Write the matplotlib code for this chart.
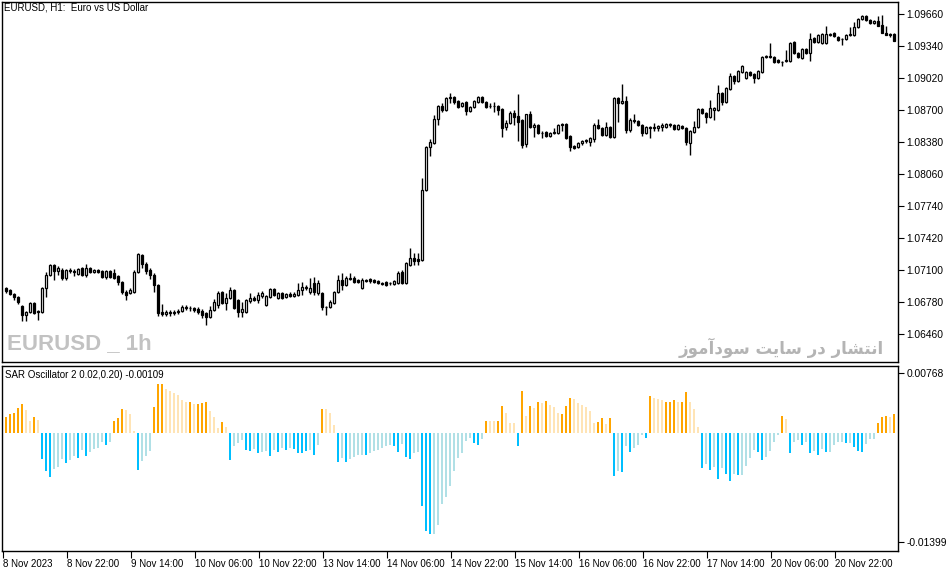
import matplotlib
matplotlib.use("Agg")
import matplotlib.pyplot as plt

# EURUSD H1 candles, 8 Nov 2023 06:00 .. 21 Nov 2023
opens = [
    1.0692, 1.0690, 1.0686, 1.0683, 1.0674, 1.0665, 1.0668, 1.0677, 1.0669, 1.0668,
    1.0692, 1.0705, 1.0715, 1.0709, 1.0710, 1.0702, 1.0710, 1.0709, 1.0706, 1.0712,
    1.0705, 1.0712, 1.0708, 1.0710, 1.0709, 1.0703, 1.0709, 1.0707, 1.0704, 1.0698,
    1.0688, 1.0687, 1.0688, 1.0708, 1.0725, 1.0716, 1.0710, 1.0705, 1.0695, 1.0668,
    1.0666, 1.0668, 1.0667, 1.0668, 1.0669, 1.0673, 1.0672, 1.0672, 1.0671, 1.0669,
    1.0667, 1.0663, 1.0670, 1.0675, 1.0688, 1.0677, 1.0682, 1.0690, 1.0680, 1.0668,
    1.0668, 1.0679, 1.0682, 1.0680, 1.0684, 1.0675, 1.0683, 1.0691, 1.0682, 1.0687,
    1.0683, 1.0686, 1.0684, 1.0685, 1.0690, 1.0692, 1.0688, 1.0697, 1.0687, 1.0687,
    1.0673, 1.0673, 1.0677, 1.0688, 1.0700, 1.0695, 1.0701, 1.0702, 1.0700, 1.0692,
    1.0700, 1.0701, 1.0700, 1.0699, 1.0697, 1.0698, 1.0697, 1.0696, 1.0697, 1.0708,
    1.0697, 1.0715, 1.0722, 1.0721, 1.0720, 1.0790, 1.0833, 1.0837, 1.0861, 1.0874,
    1.0870, 1.0882, 1.0883, 1.0879, 1.0874, 1.0878, 1.0869, 1.0873, 1.0878, 1.0883,
    1.0878, 1.0874, 1.0874, 1.0874, 1.0871, 1.0853, 1.0857, 1.0867, 1.0864, 1.0860,
    1.0836, 1.0866, 1.0853, 1.0855, 1.0847, 1.0848, 1.0844, 1.0847, 1.0847, 1.0856,
    1.0856, 1.0844, 1.0834, 1.0833, 1.0837, 1.0839, 1.0838, 1.0841, 1.0855, 1.0852,
    1.0845, 1.0853, 1.0843, 1.0882, 1.0877, 1.0879, 1.0850, 1.0859, 1.0859, 1.0855,
    1.0847, 1.0853, 1.0853, 1.0852, 1.0853, 1.0853, 1.0855, 1.0855, 1.0851, 1.0854,
    1.0852, 1.0837, 1.0848, 1.0853, 1.0871, 1.0867, 1.0863, 1.0870, 1.0870, 1.0887,
    1.0878, 1.0891, 1.0904, 1.0899, 1.0908, 1.0902, 1.0908, 1.0906, 1.0902, 1.0908,
    1.0923, 1.0924, 1.0923, 1.0920, 1.0918, 1.0919, 1.0919, 1.0938, 1.0927, 1.0922,
    1.0931, 1.0927, 1.0942, 1.0938, 1.0937, 1.0937, 1.0945, 1.0947, 1.0943, 1.0941,
    1.0941, 1.0945, 1.0945, 1.0953, 1.0961, 1.0964, 1.0960, 1.0957, 1.0959, 1.0955,
    1.0947, 1.0946, 1.0946,
]
highs = [
    1.0693, 1.0691, 1.0687, 1.0684, 1.0675, 1.0669, 1.0678, 1.0678, 1.0670, 1.0693,
    1.0708, 1.0716, 1.0716, 1.0714, 1.0712, 1.0711, 1.0712, 1.0711, 1.0712, 1.0713,
    1.0716, 1.0713, 1.0711, 1.0711, 1.0710, 1.0710, 1.0710, 1.0711, 1.0705, 1.0699,
    1.0690, 1.0692, 1.0710, 1.0727, 1.0726, 1.0718, 1.0712, 1.0707, 1.0696, 1.0676,
    1.0670, 1.0670, 1.0670, 1.0671, 1.0675, 1.0675, 1.0674, 1.0673, 1.0673, 1.0671,
    1.0668, 1.0674, 1.0681, 1.0689, 1.0689, 1.0687, 1.0693, 1.0691, 1.0681, 1.0678,
    1.0681, 1.0687, 1.0684, 1.0688, 1.0689, 1.0685, 1.0692, 1.0692, 1.0688, 1.0688,
    1.0687, 1.0688, 1.0688, 1.0697, 1.0698, 1.0695, 1.0702, 1.0703, 1.0700, 1.0688,
    1.0674, 1.0680, 1.0689, 1.0705, 1.0707, 1.0704, 1.0707, 1.0704, 1.0701, 1.0702,
    1.0701, 1.0702, 1.0701, 1.0700, 1.0698, 1.0699, 1.0698, 1.0700, 1.0709, 1.0710,
    1.0718, 1.0732, 1.0727, 1.0727, 1.0802, 1.0834, 1.0841, 1.0865, 1.0875, 1.0877,
    1.0883, 1.0887, 1.0884, 1.0880, 1.0878, 1.0879, 1.0874, 1.0880, 1.0884, 1.0884,
    1.0879, 1.0877, 1.0878, 1.0875, 1.0872, 1.0860, 1.0869, 1.0870, 1.0886, 1.0861,
    1.0866, 1.0869, 1.0857, 1.0856, 1.0849, 1.0849, 1.0848, 1.0852, 1.0856, 1.0857,
    1.0857, 1.0845, 1.0835, 1.0838, 1.0840, 1.0841, 1.0843, 1.0857, 1.0861, 1.0853,
    1.0858, 1.0854, 1.0883, 1.0883, 1.0896, 1.0884, 1.0862, 1.0866, 1.0860, 1.0856,
    1.0854, 1.0854, 1.0857, 1.0855, 1.0857, 1.0857, 1.0857, 1.0856, 1.0856, 1.0855,
    1.0853, 1.0850, 1.0859, 1.0872, 1.0872, 1.0868, 1.0880, 1.0873, 1.0895, 1.0888,
    1.0893, 1.0907, 1.0905, 1.0910, 1.0915, 1.0909, 1.0909, 1.0907, 1.0910, 1.0924,
    1.0925, 1.0937, 1.0924, 1.0921, 1.0919, 1.0930, 1.0938, 1.0939, 1.0928, 1.0932,
    1.0932, 1.0947, 1.0943, 1.0946, 1.0947, 1.0954, 1.0947, 1.0948, 1.0944, 1.0942,
    1.0946, 1.0953, 1.0958, 1.0962, 1.0965, 1.0965, 1.0961, 1.0960, 1.0964, 1.0965,
    1.0954, 1.0947, 1.0947,
]
lows = [
    1.0687, 1.0685, 1.0680, 1.0676, 1.0659, 1.0659, 1.0667, 1.0666, 1.0660, 1.0667,
    1.0683, 1.0704, 1.0700, 1.0705, 1.0700, 1.0700, 1.0707, 1.0704, 1.0705, 1.0704,
    1.0703, 1.0707, 1.0707, 1.0707, 1.0702, 1.0701, 1.0702, 1.0701, 1.0695, 1.0686,
    1.0680, 1.0686, 1.0687, 1.0707, 1.0712, 1.0706, 1.0701, 1.0688, 1.0664, 1.0664,
    1.0664, 1.0664, 1.0665, 1.0666, 1.0668, 1.0670, 1.0669, 1.0668, 1.0666, 1.0662,
    1.0655, 1.0662, 1.0669, 1.0672, 1.0676, 1.0670, 1.0681, 1.0671, 1.0663, 1.0663,
    1.0667, 1.0677, 1.0679, 1.0677, 1.0682, 1.0674, 1.0682, 1.0684, 1.0681, 1.0681,
    1.0682, 1.0683, 1.0683, 1.0684, 1.0685, 1.0690, 1.0686, 1.0685, 1.0685, 1.0670,
    1.0665, 1.0672, 1.0676, 1.0687, 1.0690, 1.0694, 1.0700, 1.0697, 1.0697, 1.0691,
    1.0698, 1.0697, 1.0697, 1.0696, 1.0695, 1.0694, 1.0695, 1.0695, 1.0696, 1.0696,
    1.0696, 1.0714, 1.0715, 1.0715, 1.0719, 1.0789, 1.0824, 1.0836, 1.0855, 1.0868,
    1.0869, 1.0877, 1.0876, 1.0872, 1.0873, 1.0865, 1.0868, 1.0872, 1.0877, 1.0877,
    1.0872, 1.0872, 1.0868, 1.0865, 1.0843, 1.0850, 1.0856, 1.0855, 1.0839, 1.0832,
    1.0833, 1.0852, 1.0843, 1.0846, 1.0842, 1.0843, 1.0843, 1.0846, 1.0846, 1.0849,
    1.0841, 1.0829, 1.0831, 1.0832, 1.0835, 1.0837, 1.0834, 1.0838, 1.0851, 1.0844,
    1.0844, 1.0842, 1.0842, 1.0858, 1.0876, 1.0847, 1.0848, 1.0857, 1.0854, 1.0844,
    1.0846, 1.0842, 1.0849, 1.0849, 1.0849, 1.0852, 1.0853, 1.0850, 1.0850, 1.0851,
    1.0835, 1.0825, 1.0847, 1.0852, 1.0866, 1.0857, 1.0862, 1.0860, 1.0869, 1.0875,
    1.0877, 1.0890, 1.0896, 1.0898, 1.0907, 1.0901, 1.0904, 1.0897, 1.0901, 1.0907,
    1.0922, 1.0922, 1.0917, 1.0917, 1.0914, 1.0918, 1.0918, 1.0926, 1.0922, 1.0921,
    1.0926, 1.0919, 1.0937, 1.0937, 1.0936, 1.0936, 1.0944, 1.0943, 1.0939, 1.0935,
    1.0940, 1.0944, 1.0944, 1.0952, 1.0960, 1.0959, 1.0956, 1.0956, 1.0954, 1.0947,
    1.0945, 1.0943, 1.0939,
]
closes = [
    1.0689, 1.0686, 1.0683, 1.0678, 1.0665, 1.0668, 1.0677, 1.0667, 1.0668, 1.0692,
    1.0705, 1.0715, 1.0709, 1.0712, 1.0702, 1.0710, 1.0709, 1.0708, 1.0711, 1.0705,
    1.0712, 1.0708, 1.0710, 1.0708, 1.0703, 1.0709, 1.0703, 1.0702, 1.0698, 1.0688,
    1.0685, 1.0690, 1.0708, 1.0726, 1.0716, 1.0709, 1.0705, 1.0695, 1.0667, 1.0666,
    1.0668, 1.0667, 1.0668, 1.0669, 1.0673, 1.0672, 1.0672, 1.0670, 1.0668, 1.0665,
    1.0663, 1.0670, 1.0678, 1.0687, 1.0677, 1.0682, 1.0690, 1.0672, 1.0668, 1.0671,
    1.0680, 1.0682, 1.0680, 1.0685, 1.0687, 1.0684, 1.0691, 1.0685, 1.0687, 1.0682,
    1.0686, 1.0684, 1.0686, 1.0690, 1.0693, 1.0693, 1.0692, 1.0688, 1.0697, 1.0673,
    1.0673, 1.0678, 1.0688, 1.0700, 1.0695, 1.0702, 1.0702, 1.0698, 1.0698, 1.0700,
    1.0699, 1.0699, 1.0698, 1.0697, 1.0696, 1.0695, 1.0697, 1.0699, 1.0707, 1.0697,
    1.0717, 1.0722, 1.0719, 1.0719, 1.0790, 1.0833, 1.0838, 1.0861, 1.0874, 1.0870,
    1.0882, 1.0883, 1.0878, 1.0873, 1.0877, 1.0869, 1.0873, 1.0879, 1.0883, 1.0878,
    1.0873, 1.0874, 1.0874, 1.0870, 1.0852, 1.0857, 1.0867, 1.0863, 1.0858, 1.0835,
    1.0866, 1.0853, 1.0855, 1.0847, 1.0847, 1.0844, 1.0847, 1.0848, 1.0855, 1.0855,
    1.0842, 1.0833, 1.0832, 1.0837, 1.0839, 1.0840, 1.0842, 1.0855, 1.0852, 1.0845,
    1.0853, 1.0843, 1.0882, 1.0877, 1.0879, 1.0850, 1.0860, 1.0860, 1.0855, 1.0847,
    1.0853, 1.0852, 1.0852, 1.0854, 1.0855, 1.0856, 1.0856, 1.0851, 1.0855, 1.0852,
    1.0838, 1.0849, 1.0853, 1.0871, 1.0867, 1.0863, 1.0872, 1.0872, 1.0887, 1.0878,
    1.0892, 1.0904, 1.0899, 1.0909, 1.0914, 1.0908, 1.0905, 1.0902, 1.0909, 1.0923,
    1.0924, 1.0923, 1.0918, 1.0918, 1.0918, 1.0920, 1.0937, 1.0927, 1.0923, 1.0931,
    1.0927, 1.0941, 1.0938, 1.0945, 1.0946, 1.0946, 1.0946, 1.0944, 1.0940, 1.0941,
    1.0945, 1.0946, 1.0953, 1.0961, 1.0964, 1.0960, 1.0957, 1.0959, 1.0954, 1.0947,
    1.0945, 1.0945, 1.0939,
]

# SAR Oscillator histogram values and shade ('d' = strong, 'l' = weak)
osc_values = [
    0.00196, 0.00239, 0.00256, 0.00312, 0.00367, 0.00290, 0.00149, 0.00196, 0.00162, -0.00333,
    -0.00487, -0.00564, -0.00461, -0.00436, -0.00333, -0.00384, -0.00350, -0.00299, -0.00320, -0.00222,
    -0.00295, -0.00243, -0.00209, -0.00192, -0.00120, -0.00154, -0.00115, 0.00154, 0.00184, 0.00299,
    0.00290, 0.00235, 0.00026, -0.00478, -0.00359, -0.00299, -0.00231, 0.00333, 0.00619, 0.00623,
    0.00555, 0.00529, 0.00512, 0.00487, 0.00418, 0.00393, 0.00393, 0.00363, 0.00367, 0.00376,
    0.00393, 0.00282, 0.00205, 0.00060, 0.00137, 0.00077, -0.00350, -0.00171, -0.00128, -0.00094,
    -0.00222, -0.00235, -0.00209, -0.00256, -0.00243, -0.00231, -0.00299, -0.00222, -0.00243, -0.00201,
    -0.00222, -0.00201, -0.00214, -0.00256, -0.00265, -0.00235, -0.00222, -0.00286, -0.00158, 0.00303,
    0.00303, 0.00248, 0.00098, -0.00371, -0.00320, -0.00371, -0.00342, -0.00316, -0.00286, -0.00286,
    -0.00286, -0.00256, -0.00231, -0.00222, -0.00192, -0.00171, -0.00158, -0.00171, -0.00243, -0.00145,
    -0.00307, -0.00342, -0.00265, -0.00243, -0.00939, -0.01260, -0.01302, -0.01302, -0.01183, -0.00914,
    -0.00828, -0.00683, -0.00487, -0.00320, -0.00265, -0.00102, -0.00064, -0.00137, -0.00158, -0.00081,
    0.00149, 0.00149, 0.00149, 0.00149, 0.00346, 0.00256, 0.00128, 0.00128, -0.00171, 0.00534,
    0.00214, 0.00346, 0.00316, 0.00393, 0.00384, 0.00406, 0.00359, 0.00333, 0.00256, 0.00235,
    0.00342, 0.00448, 0.00431, 0.00376, 0.00354, 0.00325, 0.00278, 0.00120, 0.00132, 0.00188,
    0.00107, 0.00188, -0.00551, -0.00487, -0.00500, -0.00171, -0.00243, -0.00201, -0.00158, -0.00030,
    -0.00064, 0.00470, 0.00448, 0.00431, 0.00418, 0.00397, 0.00397, 0.00418, 0.00389, 0.00397,
    0.00521, 0.00389, 0.00303, 0.00077, -0.00448, -0.00401, -0.00478, -0.00436, -0.00594, -0.00453,
    -0.00525, -0.00615, -0.00525, -0.00547, -0.00542, -0.00431, -0.00325, -0.00222, -0.00243, -0.00346,
    -0.00307, -0.00235, -0.00115, -0.00034, 0.00218, 0.00171, -0.00256, -0.00115, -0.00090, -0.00162,
    -0.00115, -0.00265, -0.00231, -0.00282, -0.00205, -0.00248, -0.00243, -0.00162, -0.00120, -0.00120,
    -0.00137, -0.00137, -0.00179, -0.00231, -0.00243, -0.00149, -0.00077, -0.00077, 0.00124, 0.00196,
    0.00209, 0.00196, 0.00239,
]
osc_shade = [
    "d", "d", "d", "d", "d", "l", "l", "d", "l", "d",
    "d", "d", "l", "l", "l", "d", "l", "l", "d", "l",
    "d", "l", "l", "l", "l", "d", "l", "d", "d", "d",
    "l", "l", "l", "d", "l", "l", "l", "d", "d", "d",
    "l", "l", "l", "l", "l", "l", "d", "l", "d", "d",
    "d", "l", "l", "l", "d", "l", "d", "l", "l", "l",
    "d", "d", "l", "d", "l", "l", "d", "l", "d", "l",
    "d", "l", "d", "d", "d", "d", "l", "d", "l", "d",
    "l", "l", "l", "d", "l", "d", "l", "l", "l", "l",
    "d", "l", "l", "l", "l", "l", "l", "d", "d", "l",
    "d", "d", "l", "l", "d", "d", "d", "l", "l", "l",
    "l", "l", "l", "l", "l", "l", "l", "d", "d", "l",
    "d", "l", "l", "d", "d", "l", "l", "l", "d", "d",
    "l", "d", "l", "d", "l", "d", "l", "l", "l", "d",
    "d", "d", "l", "l", "l", "l", "l", "l", "d", "d",
    "l", "d", "d", "l", "d", "l", "d", "l", "l", "l",
    "d", "d", "l", "l", "l", "d", "d", "d", "l", "d",
    "d", "l", "l", "l", "d", "l", "d", "l", "d", "l",
    "d", "d", "l", "d", "l", "l", "l", "l", "d", "d",
    "l", "l", "l", "l", "d", "l", "d", "l", "l", "d",
    "l", "d", "l", "d", "l", "d", "l", "l", "l", "l",
    "d", "l", "d", "d", "d", "l", "l", "l", "d", "d",
    "d", "l", "d",
]

price_ticks = [1.06460, 1.06780, 1.07100, 1.07420, 1.07740, 1.08060,
               1.08380, 1.08700, 1.09020, 1.09340, 1.09660]
osc_ticks = [0.00768, -0.01399]
time_labels = ["8 Nov 2023", "8 Nov 22:00", "9 Nov 14:00", "10 Nov 06:00",
               "10 Nov 22:00", "13 Nov 14:00", "14 Nov 06:00", "14 Nov 22:00",
               "15 Nov 14:00", "16 Nov 06:00", "16 Nov 22:00", "17 Nov 14:00",
               "20 Nov 06:00", "20 Nov 22:00"]

title = "EURUSD, H1:  Euro vs US Dollar"
osc_title = "SAR Oscillator 2 0.02,0.20) -0.00109"
watermark = "EURUSD _ 1h"
site_text = "انتشار در سایت سودآموز"

# simple Arabic-script shaping (matplotlib has no shaping / RTL support)
FORMS = {
    "ا": (0xFE8D, 0xFE8E, None, None), "آ": (0xFE81, 0xFE82, None, None),
    "ر": (0xFEAD, 0xFEAE, None, None), "د": (0xFEA9, 0xFEAA, None, None),
    "و": (0xFEED, 0xFEEE, None, None), "ز": (0xFEAF, 0xFEB0, None, None),
    "ن": (0xFEE5, 0xFEE6, 0xFEE7, 0xFEE8), "ت": (0xFE95, 0xFE96, 0xFE97, 0xFE98),
    "ش": (0xFEB5, 0xFEB6, 0xFEB7, 0xFEB8), "س": (0xFEB1, 0xFEB2, 0xFEB3, 0xFEB4),
    "ی": (0xFBFC, 0xFBFD, 0xFEF3, 0xFEF4), "م": (0xFEE1, 0xFEE2, 0xFEE3, 0xFEE4),
}


def shape_word(word):
    out = []
    for k, ch in enumerate(word):
        iso, fin, ini, med = FORMS[ch]
        prev_joins = k > 0 and FORMS[word[k - 1]][2] is not None
        next_joins = k < len(word) - 1 and ini is not None
        if prev_joins and next_joins:
            code = med
        elif prev_joins:
            code = fin
        elif next_joins:
            code = ini
        else:
            code = iso
        out.append(chr(code))
    return "".join(out)


def shape_rtl(text):
    shaped = " ".join(shape_word(w) for w in text.split(" "))
    return shaped[::-1]


W, H = 951, 572
fig = plt.figure(figsize=(W / 100, H / 100), dpi=100)
fig.patch.set_facecolor("white")

ax = fig.add_axes([2 / W, 1 - 362 / H, 896 / W, 360.5 / H])
ax2 = fig.add_axes([2 / W, 1 - 551 / H, 896 / W, 185 / H])

FONT = "Liberation Sans"
FS = 7.4
FS_X = 7.0

# candles
xs = list(range(len(closes)))
ax.vlines(xs, lows, highs, color="black", linewidth=1.0, zorder=1)
bottoms = [min(o, c) for o, c in zip(opens, closes)]
heights = [max(abs(c - o), 0.000001) for o, c in zip(opens, closes)]
faces = ["white" if c >= o else "black" for o, c in zip(opens, closes)]
ax.bar(xs, heights, bottom=bottoms, width=0.55, color=faces,
       edgecolor="black", linewidth=0.9, zorder=2)

ax.set_xlim(-1, 223)
ax.set_ylim(1.0618, 1.09785)
ax.set_xticks([])
ax.yaxis.tick_right()
ax.set_yticks(price_ticks)
ax.set_yticklabels([f"{p:.5f}" for p in price_ticks], fontsize=FS, family=FONT)
ax.tick_params(axis="y", direction="out", length=4, width=0.8, pad=2)

# oscillator
colors = []
for v, s in zip(osc_values, osc_shade):
    if v >= 0:
        colors.append("#FFA500" if s == "d" else "#FFE4B5")
    else:
        colors.append("#00BFFF" if s == "d" else "#B0E0E6")
ax2.bar(xs, osc_values, width=0.5, color=colors, linewidth=0)
ax2.set_xlim(-1, 223)
ax2.set_ylim(-0.01514, 0.00854)
ax2.yaxis.tick_right()
ax2.set_yticks(osc_ticks)
ax2.set_yticklabels([f"{v:.5f}" for v in osc_ticks], fontsize=FS, family=FONT)
ax2.tick_params(axis="y", direction="out", length=4, width=0.8, pad=2)
ax2.set_xticks([-0.8 + 16 * k for k in range(len(time_labels))])
ax2.set_xticklabels(time_labels, fontsize=FS_X, family=FONT, ha="left")
ax2.tick_params(axis="x", direction="out", length=5, width=0.8, pad=1)

for a in (ax, ax2):
    for sp in a.spines.values():
        sp.set_color("black")
        sp.set_linewidth(1.0)

fig.text(4 / W, 1 - 3 / H, title, fontsize=FS_X, family=FONT, va="top", ha="left")
fig.text(5 / W, 1 - 370 / H, osc_title, fontsize=FS_X, family=FONT, va="top", ha="left")
fig.text(7 / W, 1 - 349 / H, watermark, fontsize=16, weight="bold", color="#C2C2C2",
         family=FONT, va="baseline", ha="left")
fig.text(884 / W, 1 - 354 / H, shape_rtl(site_text), fontsize=12, weight="bold",
         color="#B4B4B4", family="DejaVu Sans", va="baseline", ha="right")

fig.savefig("out.png", dpi=100, facecolor="white")
